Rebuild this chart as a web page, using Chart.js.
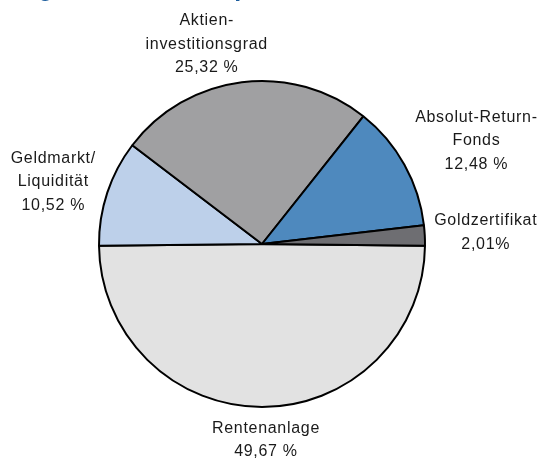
<!DOCTYPE html>
<html lang="de">
<head>
  <meta charset="UTF-8">
  <title>Vermögensstruktur Depot</title>
  <style>
    body {
      margin: 0;
      padding: 0;
      background: #ffffff;
      font-family: "Liberation Sans", Arial, sans-serif;
    }
    .wrap {
      position: relative;
      width: 544px;
      height: 460px;
      overflow: hidden;
    }
    /* Titel ist im Original oben abgeschnitten */
    .titel {
      position: absolute;
      left: -40px;
      top: -25.5px;
      font-size: 25px;
      line-height: 25px;
      letter-spacing: 0.3px;
      font-weight: bold;
      color: #1b5c9c;
      white-space: nowrap;
    }
  </style>
</head>
<body>
  <div class="wrap">
    <div class="titel">Vermögensstruktur Depot</div>
    <canvas id="pieChart" width="544" height="460"></canvas>
  </div>

  <script src="https://cdn.jsdelivr.net/npm/chart.js"></script>
  <script>
    // Reihenfolge im Uhrzeigersinn, beginnend rechts (3 Uhr)
    const kategorien = [
      ['Rentenanlage'],
      ['Geldmarkt/', 'Liquidität'],
      ['Aktien-', 'investitionsgrad'],
      ['Absolut-Return-', 'Fonds'],
      ['Goldzertifikat']
    ];
    const anteile = [49.67, 10.52, 25.32, 12.48, 2.01];
    const prozentTrenner = [' %', ' %', ' %', ' %', '%'];

    const farben = ['#e2e2e2', '#bdd0ea', '#a0a0a2', '#4e89be', '#6e6e72'];
    // Verschiebung der Beschriftung relativ zum Bogenmittelpunkt
    const labelVersatz = [[4, 33], [-54, -11], [-35, -38], [72, -24], [61, -3]];

    const beschriftung = {
      id: 'beschriftung',
      afterDraw(chart) {
        const ctx = chart.ctx;
        const meta = chart.getDatasetMeta(0);
        ctx.save();
        ctx.font = '16px "Liberation Sans", Arial, sans-serif';
        ctx.letterSpacing = '0.7px';
        ctx.fillStyle = '#1a1a1a';
        ctx.textAlign = 'center';
        ctx.textBaseline = 'middle';
        const zeile = 23.5;
        meta.data.forEach((arc, i) => {
          const mid = (arc.startAngle + arc.endAngle) / 2;
          const ax = arc.x + Math.cos(mid) * arc.outerRadius + labelVersatz[i][0];
          const ay = arc.y + Math.sin(mid) * arc.outerRadius + labelVersatz[i][1];
          const prozent = anteile[i].toFixed(2).replace('.', ',') + prozentTrenner[i];
          const zeilen = kategorien[i].concat([prozent]);
          const y0 = ay - (zeilen.length - 1) * zeile / 2;
          zeilen.forEach((t, k) => ctx.fillText(t, ax, y0 + k * zeile));
        });
        ctx.restore();
      }
    };

    const ctx = document.getElementById('pieChart').getContext('2d');
    new Chart(ctx, {
      type: 'pie',
      data: {
        labels: kategorien.map(k => k.join(' ')),
        datasets: [{
          data: anteile,
          backgroundColor: farben,
          borderColor: '#000000',
          borderWidth: 2
        }]
      },
      options: {
        responsive: false,
        animation: false,
        rotation: 90.6,
        layout: {
          padding: { left: 98, right: 118, top: 80, bottom: 52 }
        },
        plugins: {
          legend: { display: false },
          tooltip: { enabled: false }
        },
        events: []
      },
      plugins: [beschriftung]
    });
  </script>
</body>
</html>
